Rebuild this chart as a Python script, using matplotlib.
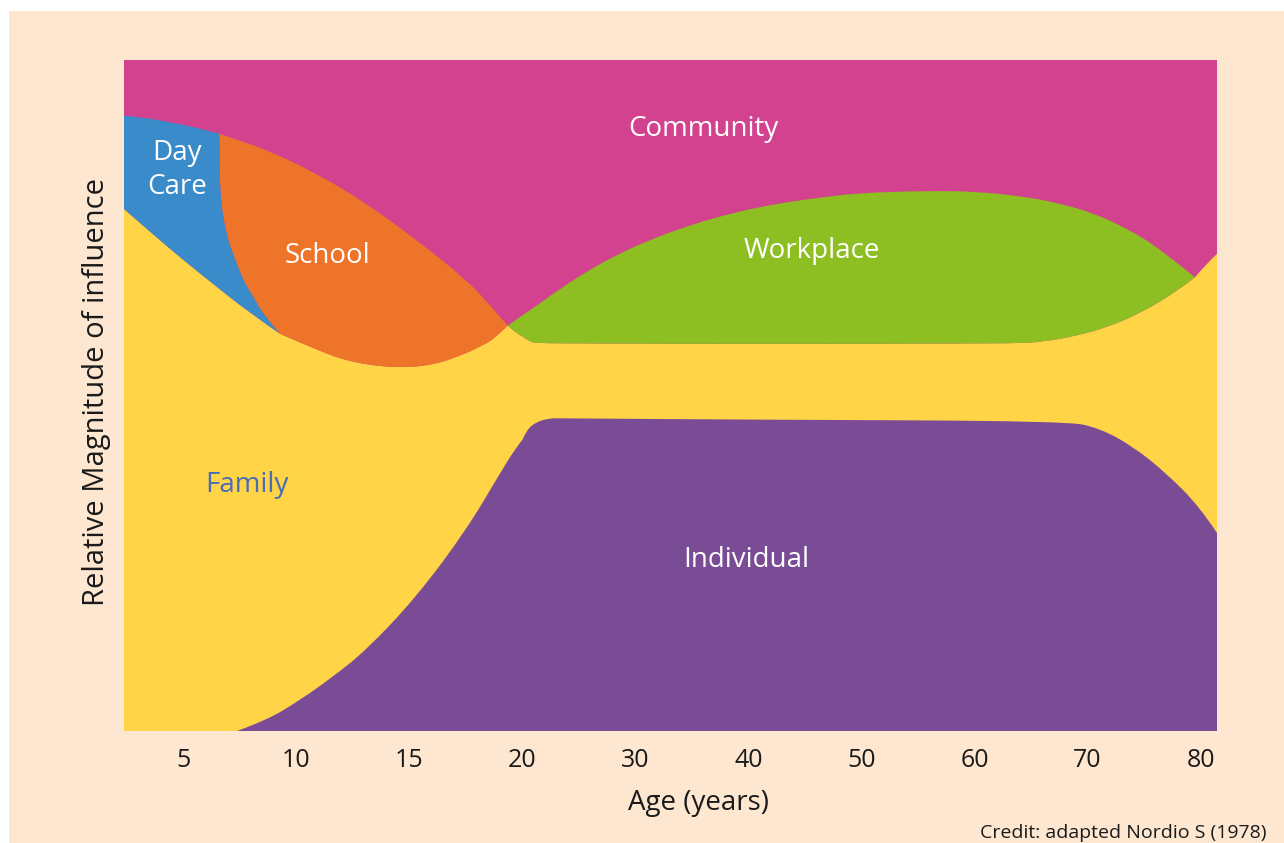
import numpy as np
import matplotlib.pyplot as plt
from matplotlib.patches import Rectangle, PathPatch
from matplotlib.path import Path
from matplotlib.ticker import NullLocator

plt.rcParams['font.family'] = ['Open Sans', 'DejaVu Sans']

# age axis: 5-year steps up to 20, then 10-year steps
AGE_MIN = 2.38
AGE_MAX = 81.45
tick_ages = [5, 10, 15, 20, 30, 40, 50, 60, 70, 80]

# boundaries (age, relative magnitude 0-100)
daycare_top_age = [2.38, 3.31, 4.28, 5.52, 6.60]
daycare_top_val = [91.7, 91.4, 90.8, 90.0, 89.0]

divider_age = [6.60, 6.61, 6.62, 6.70, 6.84, 7.07, 7.36, 7.68, 8.10, 8.61, 9.28]
divider_val = [89.0, 85.6, 81.6, 78.1, 75.2, 72.2, 69.7, 67.0, 64.7, 61.7, 59.2]

family_left_age = [2.38, 3.53, 5.00, 6.48, 7.95, 9.28]
family_left_val = [77.8, 74.4, 70.2, 66.2, 62.3, 59.2]

school_top_age = [6.60, 7.65, 8.69, 10.90, 13.11, 15.32, 17.53, 18.43, 19.35]
school_top_val = [89.0, 87.8, 86.6, 83.1, 78.6, 73.2, 67.2, 64.0, 60.4]

school_bottom_age = [9.28, 10.90, 12.37, 14.29, 16.06, 17.53, 18.12, 18.71, 19.35]
school_bottom_val = [59.2, 56.8, 55.0, 54.1, 54.5, 56.3, 57.3, 58.3, 60.4]

work_top_age = [19.35, 19.89, 22.73, 25.69, 28.63, 31.58, 34.53, 37.48, 40.43, 43.38,
                46.33, 49.86, 55.76, 60.19, 64.61, 67.56, 70.50, 73.46, 76.40, 79.50]
work_top_val = [60.4, 61.7, 65.2, 68.5, 71.2, 73.4, 75.2, 76.7, 77.9, 78.8,
                79.5, 80.2, 80.5, 80.4, 79.6, 78.6, 77.2, 74.9, 71.9, 67.6]

work_bottom_age = [19.35, 19.60, 19.89, 20.67, 21.56, 63.13, 66.08, 69.03, 71.98, 74.92, 77.88, 79.50]
work_bottom_val = [60.4, 59.7, 59.0, 58.0, 57.7, 57.7, 58.0, 58.9, 60.3, 62.5, 65.5, 67.6]

family_right_age = [79.50, 80.53, 81.45]
family_right_val = [67.6, 69.7, 71.1]

individual_age = [7.38, 8.69, 10.16, 11.63, 13.11, 15.32, 17.53, 19.01, 19.67, 20.38,
                  21.27, 22.44, 23.33, 40.00, 68.17, 71.09, 74.03, 76.98, 79.93, 81.45]
individual_val = [0.0, 1.6, 4.6, 8.1, 12.1, 20.0, 30.0, 38.4, 42.0, 44.9,
                  46.1, 46.6, 46.6, 46.4, 46.2, 45.1, 42.4, 38.4, 33.4, 29.5]

MAGENTA = '#D3428E'
BLUE = '#3A8BC9'
ORANGE = '#EE742A'
YELLOW = '#FFD447'
GREEN = '#8DBE22'
PURPLE = '#7B4C96'
PEACH = '#FEE7D0'
TEXT = '#1a1a1a'


def age_to_pos(a):
    a = np.asarray(a, dtype=float)
    return np.where(a <= 20, a / 5 - 1, 3 + (a - 20) / 10)


def pos_to_age(p):
    p = np.asarray(p, dtype=float)
    return np.where(p <= 3, 5 * (p + 1), 20 + 10 * (p - 3))


def smooth(xs, ys, reverse=False):
    # quadratic bezier chain through the read points (drawn by matplotlib)
    pts = list(zip(xs, ys))
    if reverse:
        pts = pts[::-1]
    verts = [pts[0]]
    codes = [Path.LINETO]
    if len(pts) == 2:
        return verts + [pts[1]], codes + [Path.LINETO]
    for i in range(1, len(pts) - 1):
        if i < len(pts) - 2:
            end = ((pts[i][0] + pts[i + 1][0]) / 2, (pts[i][1] + pts[i + 1][1]) / 2)
        else:
            end = pts[-1]
        verts += [pts[i], end]
        codes += [Path.CURVE3, Path.CURVE3]
    return verts, codes


def region(ax, pieces, color):
    verts, codes = [], []
    for v, c in pieces:
        verts += v
        codes += c
    codes[0] = Path.MOVETO
    verts.append(verts[0])
    codes.append(Path.CLOSEPOLY)
    ax.add_patch(PathPatch(Path(verts, codes), facecolor=color, lw=0))


def line(pts):
    return list(pts), [Path.LINETO] * len(pts)


fig = plt.figure(figsize=(12.84, 8.43), dpi=100, facecolor='white')
fig.patches.append(Rectangle((9 / 1284, 0), 1, 1 - 11 / 843, transform=fig.transFigure,
                             facecolor=PEACH, edgecolor='none', zorder=-10))
ax = fig.add_axes([124 / 1284, 1 - 731 / 843, 1093 / 1284, 671 / 843])
ax.set_xscale('function', functions=(age_to_pos, pos_to_age))
ax.set_xlim(AGE_MIN, AGE_MAX)
ax.set_ylim(0, 100)

# community fills everything, the rest is painted on top
ax.fill_between([AGE_MIN, AGE_MAX], 0, 100, color=MAGENTA, lw=0)

region(ax, [line([(AGE_MIN, 0)]),
            smooth(family_left_age, family_left_val),
            smooth(school_bottom_age, school_bottom_val),
            smooth(work_bottom_age, work_bottom_val),
            smooth(family_right_age, family_right_val),
            line([(AGE_MAX, 0)])], YELLOW)

region(ax, [smooth(individual_age, individual_val),
            line([(AGE_MAX, 0)])], PURPLE)

region(ax, [smooth(work_top_age, work_top_val),
            smooth(work_bottom_age, work_bottom_val, reverse=True)], GREEN)

region(ax, [smooth(school_top_age, school_top_val),
            smooth(school_bottom_age, school_bottom_val, reverse=True),
            smooth(divider_age, divider_val, reverse=True)], ORANGE)

region(ax, [smooth(daycare_top_age, daycare_top_val),
            smooth(divider_age, divider_val),
            smooth(family_left_age, family_left_val, reverse=True)], BLUE)

lab = dict(fontsize=20, ha='center', va='center')
ax.text(35.98, 89.7, 'Community', color='white', **lab)
ax.text(4.72, 83.6, 'Day\nCare', color='white', linespacing=1.25, **lab)
ax.text(11.36, 70.8, 'School', color='white', **lab)
ax.text(45.62, 71.5, 'Workplace', color='white', **lab)
ax.text(7.82, 36.6, 'Family', color='#4A6DB5', **lab)
ax.text(39.78, 25.5, 'Individual', color='white', **lab)

for s in ax.spines.values():
    s.set_visible(False)
ax.set_xticks(tick_ages)
ax.set_xticklabels([str(a) for a in tick_ages])
ax.xaxis.set_minor_locator(NullLocator())
ax.set_yticks([])
ax.tick_params(axis='x', length=0, pad=12.5, labelsize=18, labelcolor=TEXT)

ax.set_xlabel('Age (years)', fontsize=20, color=TEXT)
ax.xaxis.set_label_coords(0.526, -0.087)
ax.set_ylabel('Relative Magnitude of influence', fontsize=21, color=TEXT)
ax.yaxis.set_label_coords(-0.012, 0.505)

fig.text(1267 / 1284, 1 - 838 / 843, 'Credit: adapted Nordio S (1978)',
         ha='right', va='baseline', fontsize=14, color=TEXT)

fig.savefig('out.png', dpi=100)
